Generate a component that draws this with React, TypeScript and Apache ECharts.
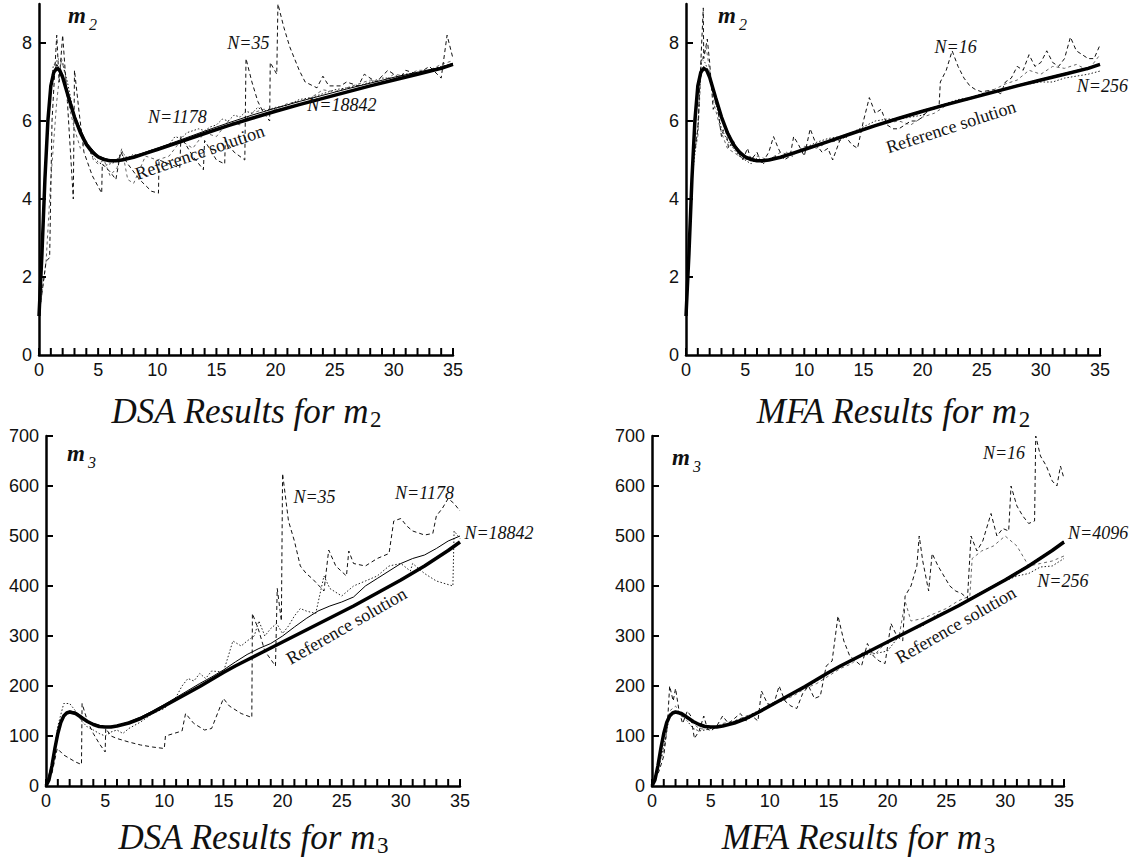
import React, { useEffect, useRef } from "react";
import * as echarts from "echarts";

// ---------- axis ticks ----------
const xTickValues = [0,1,2,3,4,5,6,7,8,9,10,11,12,13,14,15,16,17,18,19,20,21,22,23,24,25,26,27,28,29,30,31,32,33,34,35];
const m2LabelValues = [0,2,4,6,8];
const m3LabelValues = [0,100,200,300,400,500,600,700];

// ---------- reference solution ----------
const refM2X = [0,0.25,0.5,0.75,1,1.25,1.5,1.75,2,2.5,3,3.5,4,4.5,5,5.5,6,6.5,7,8,9,10,12,14,16,18,20,22,24,26,28,30,32,34,35];
const refM2Y = [1.0,2.6,4.5,6.0,6.9,7.25,7.35,7.3,7.12,6.6,6.1,5.7,5.4,5.2,5.08,5.01,4.98,4.98,5.0,5.07,5.17,5.27,5.47,5.68,5.88,6.07,6.25,6.42,6.58,6.74,6.9,7.05,7.2,7.35,7.45];

const refM3X = [0,0.25,0.5,0.75,1,1.25,1.5,1.75,2,2.5,3,3.5,4,4.5,5,5.5,6,7,8,9,10,11,12,13,14,15,16,17,18,19,20,22,24,26,28,30,32,34,35];
const refM3Y = [0,12,40,75,105,127,140,146,148,145,137,129,123,119,118,118,120,126,135,147,160,173,186,199,213,227,240,252,264,276,288,312,336,360,386,412,440,471,488];

// ---------- DSA m2 ----------
const dsaM2N18842X = [0,0.5,1,1.5,2,3,4,5,6,7,8,10,12,14,16,18,20,22,24,26,28,30,32,34,35];
const dsaM2N18842Y = [1.0,4.6,7.0,7.45,7.2,6.15,5.45,5.1,5.0,5.02,5.1,5.3,5.52,5.74,5.95,6.15,6.33,6.5,6.66,6.82,6.97,7.12,7.25,7.38,7.48];

const dsaM2N1178X = [0,0.4,0.8,1.2,1.6,2.0,2.4,2.8,3.2,3.6,4.0,4.5,5.0,5.5,6.0,6.5,7.0,7.5,8.0,8.5,9.0,9.5,10,10.5,11,11.5,12,12.5,13,13.5,14,14.5,15,15.5,16,16.5,17,17.5,18,18.5,19,19.5,20,21,22,23,24,25,26,27,28,29,30,31,32,33,34,35];
const dsaM2N1178Y = [1.0,3.8,6.2,7.4,7.6,7.5,7.0,6.4,5.9,5.6,5.4,5.1,4.95,4.85,4.9,4.95,5.2,5.05,5.15,5.1,5.2,5.25,5.25,5.35,5.4,5.6,5.55,5.7,5.75,5.8,5.75,5.85,5.9,6.05,6.0,6.15,6.1,6.25,6.2,6.35,6.25,6.3,6.35,6.4,6.55,6.6,6.7,6.8,6.85,6.9,7.0,7.1,7.1,7.2,7.25,7.3,7.4,7.45];

const dsaM2N35X = [0,0.6,0.9,1.1,1.5,1.7,2.0,2.4,2.9,2.95,3.0,3.4,3.8,4.5,5.3,5.35,6.0,6.5,6.9,7.5,8.5,9.5,10.1,10.15,11.0,11.9,12.0,13.0,13.9,14.0,15.0,15.7,15.75,16.5,17.4,17.5,18.0,18.5,19.0,19.5,19.55,20.1,20.2,20.7,21.2,22.0,22.5,23.5,24.0,24.5,25.5,26.0,27.0,27.5,28.5,29.5,30.5,31.0,32.0,33.0,34.0,34.5,35];
const dsaM2N35Y = [1.0,2.4,2.5,6.0,8.2,7.0,8.2,6.5,4.0,4.0,7.3,6.2,5.2,4.6,4.15,4.9,4.7,4.5,5.2,4.9,4.5,4.2,4.15,5.0,4.9,4.8,5.6,5.1,4.75,5.5,5.0,4.9,5.5,5.2,5.0,7.6,7.0,6.5,6.2,6.0,7.5,7.2,9.0,8.4,7.9,7.3,7.0,6.85,7.15,6.9,6.9,7.0,6.9,7.2,7.0,7.3,7.1,7.3,7.2,7.4,7.1,8.2,7.6];

const dsaM2MidX = [0,0.6,1.0,1.5,1.9,2.2,2.6,3.0,3.5,4.0,4.6,5.0,5.5,6.0,6.6,7.0,7.5,8.0,9.0,10.0,11.0,12.0,13.0,14.0,15.0,16.0,17.0,18.0,19.0,20.0,21.0,22.0,23.0,24.0,25.0,26.0,27.0,28.0,29.0,30.0,31.0,32.0,33.0,34.0,35.0];
const dsaM2MidY = [1.0,2.4,4.5,6.5,7.6,7.2,6.3,5.8,5.3,5.5,5.0,4.9,5.0,4.6,4.8,5.3,4.5,4.4,5.1,5.0,5.1,5.5,5.3,5.7,5.6,6.0,5.9,6.2,6.3,6.3,6.45,6.5,6.6,6.8,6.75,6.85,6.95,7.05,7.0,7.2,7.15,7.3,7.3,7.45,7.55];

// ---------- MFA m2 ----------
const mfaM2N4096X = [0,0.5,1,1.5,2,3,4,5,6,7,8,10,12,14,16,18,20,22,24,26,28,30,32,34,35];
const mfaM2N4096Y = [1.0,4.5,6.9,7.4,7.15,6.1,5.42,5.1,5.0,5.02,5.08,5.28,5.49,5.7,5.9,6.09,6.27,6.44,6.6,6.76,6.92,7.07,7.22,7.37,7.46];

const mfaM2N256X = [0,0.5,1,1.3,1.6,2,2.5,3,3.5,4,4.5,5,5.5,6,6.5,7,7.5,8,8.5,9,9.5,10,11,12,13,14,15,16,17,18,19,20,21,22,23,24,25,26,27,28,29,30,31,32,33,34,35];
const mfaM2N256Y = [1.0,4.5,5.8,7.6,7.5,7.2,6.5,5.8,5.5,5.3,5.1,5.0,4.9,5.05,4.9,5.0,5.1,5.05,5.2,5.1,5.25,5.3,5.45,5.55,5.6,5.7,5.85,6.0,6.05,6.05,6.1,6.15,6.35,6.45,6.55,6.6,6.7,6.75,6.8,6.9,6.95,7.0,7.0,7.1,7.15,7.2,7.28];

const mfaM2N16X = [0,0.6,1.0,1.46,1.5,1.8,2.0,2.3,2.6,3.0,3.3,3.6,4.0,4.4,4.8,5.2,5.5,6.0,6.4,7.0,7.4,7.8,8.3,8.8,9.1,9.5,10.0,10.5,11,11.5,12,12.4,13,13.5,14,14.5,15,15.5,16,16.5,17,17.5,18,18.5,19,19.5,20,20.5,21,21.4,21.5,22,22.5,23,23.5,24,24.5,25,26,26.6,27,27.5,28,28.5,29,29.5,30,30.5,31,31.5,32,32.5,33,33.5,34,34.5,35];
const mfaM2N16Y = [1.0,5.0,5.8,8.9,7.6,8.1,7.5,6.3,6.5,5.6,5.9,5.3,5.5,5.2,5.0,5.3,5.0,5.2,4.9,5.2,5.6,5.3,5.0,5.1,5.6,5.4,5.1,5.8,5.4,5.2,5.3,5.0,5.5,5.6,5.4,5.3,6.0,6.6,6.2,6.3,5.9,5.8,5.8,5.9,6.0,6.0,6.1,6.3,6.3,6.4,7.0,7.3,7.8,7.4,7.1,6.9,6.8,6.75,6.8,6.7,7.0,7.1,7.4,7.3,7.7,7.4,7.5,7.8,7.5,7.4,7.6,8.15,7.8,7.7,7.6,7.6,7.95];

const mfaM2MidX = [0,0.6,1,1.3,1.7,2,2.4,3,3.5,4,5,6,7,8,9,10,11,12,13,14,15,16,17,18,19,20,21,22,23,24,25,26,27,28,29,30,31,32,33,34,35];
const mfaM2MidY = [1.0,5.0,5.6,7.5,7.9,7.3,6.4,5.7,5.3,5.2,5.0,5.1,5.0,5.2,5.1,5.35,5.3,5.45,5.5,5.7,5.75,5.9,5.95,6.0,5.9,6.1,6.2,6.4,6.5,6.55,6.7,6.8,6.95,7.05,7.3,7.2,7.4,7.35,7.45,7.3,7.7];

// ---------- DSA m3 ----------
const dsaM3N18842X = [0,0.5,1,1.5,2,2.5,3,3.5,4,5,6,7,8,9,10,11,12,13,14,15,16,17,18,19,20,21,22,23,24,25,26,27,28,29,30,31,32,33,34,35];
const dsaM3N18842Y = [0,45,110,140,150,148,140,130,125,118,121,128,138,150,163,177,191,205,218,232,248,263,275,285,300,318,335,350,360,368,378,400,415,430,445,455,462,475,490,500];

const dsaM3N35X = [0,0.5,0.95,1.5,2,2.5,3,3.05,3.5,4,4.5,5,5.05,5.5,6,7,8,9,10,10.1,10.8,11.5,11.8,12.5,13.4,14,15,15.5,16.5,17.4,17.45,18,18.5,19.4,19.55,19.9,20,20.5,21,21.5,22,22.5,23.5,23.9,24.5,25.4,25.6,26,27,28,29,29.4,30,30.5,31,32,32.7,33,33.5,34,34.5,35];
const dsaM3N35Y = [0,25,75,62,55,48,43,165,130,105,85,68,115,100,95,88,82,78,75,100,105,110,145,125,112,115,175,160,145,137,345,310,270,240,395,330,625,530,490,440,425,415,390,472,440,420,470,445,440,455,465,530,535,520,510,502,505,540,555,575,565,550];

const dsaM3N1178X = [0,0.5,1,1.5,2,2.5,3,3.5,4,4.5,5,5.5,6,6.5,7,8,9,10,11,11.5,12,12.5,13,13.5,14,15,15.8,16.5,17,17.6,18,18.5,19,19.5,20,20.5,21,21.5,22,22.8,23.5,24,25,26,27,28,29,30,30.8,31,32,33,34.4,34.5,35];
const dsaM3N1178Y = [0,40,120,165,165,150,130,118,112,105,100,108,112,105,115,128,145,155,178,200,215,210,225,215,230,228,290,280,290,300,330,300,315,325,305,320,340,355,350,345,420,395,380,400,410,420,440,445,430,445,425,410,400,510,495];

// ---------- MFA m3 ----------
const mfaM3N4096X = [0,0.5,1,1.5,2,2.5,3,4,5,6,7,8,10,12,14,16,18,20,22,24,26,28,30,32,34,35];
const mfaM3N4096Y = [0,38,106,140,148,145,137,123,118,120,126,135,161,187,214,241,265,289,313,337,362,388,414,442,473,490];

const mfaM3N16X = [0,0.6,1,1.3,1.5,1.8,2,2.3,2.6,3,3.3,3.6,4,4.4,4.7,5,5.5,6,6.5,7,7.5,8,8.5,9,9.3,9.8,10.3,10.8,11.3,11.8,12.3,12.8,13.3,13.8,14.3,14.8,15.3,15.8,16.3,16.8,17.3,17.8,18.3,18.8,19.3,19.8,20.3,20.8,21.3,21.5,22,22.5,22.7,23,23.5,23.8,24.3,24.8,25.3,25.8,26.3,26.8,27.1,27.6,28.1,28.8,29.3,29.8,30.3,30.5,31,31.5,32,32.5,32.6,33,33.5,34,34.4,34.7,35];
const mfaM3N16Y = [0,30,60,120,200,170,195,150,125,150,140,95,110,140,115,110,120,140,125,135,145,130,140,130,190,165,160,200,170,160,155,185,200,175,180,240,250,340,290,260,250,240,285,260,250,245,325,300,290,380,400,440,500,450,390,465,440,420,400,390,385,375,500,470,490,545,500,515,510,600,560,540,525,530,700,660,640,610,600,640,615];

const mfaM3N256X = [0,0.5,1,1.5,2,2.5,3,3.5,4,4.5,5,5.5,6,7,8,9,10,11,12,13,14,15,16,17,18,19,20,21,22,23,24,25,26,27,28,29,30,31,32,33,34,35];
const mfaM3N256Y = [0,30,80,140,150,140,130,115,110,112,115,120,118,130,138,150,162,170,185,195,210,225,240,250,262,265,270,300,312,320,340,350,360,375,385,400,410,420,425,438,440,455];

const mfaM3MidX = [0,1,1.5,2,2.5,3,4,5,6,7,8,9,10,11,12,13,14,15,16,17,18,19,20,21,21.5,22,23,24,25,26,27,27.2,28,29,30,31,32,33,34,35];
const mfaM3MidY = [0,70,150,160,140,135,115,112,125,130,140,148,165,170,180,195,205,220,235,245,270,265,290,300,370,330,335,345,355,370,380,455,470,480,500,480,440,445,450,460];

// ---------- texts ----------
const panelTitles = ["DSA Results for ", "MFA Results for ", "DSA Results for ", "MFA Results for "];
const panelSubs = ["2", "2", "3", "3"];

const pairs = (xs: number[], ys: number[]) => xs.map((x, i) => [x, ys[i]]);

const SERIF = "'Liberation Serif', 'Times New Roman', serif";
const SANS = "'Liberation Sans', Arial, Helvetica, sans-serif";

export default function App() {
  const divRef = useRef<HTMLDivElement>(null);

  useEffect(() => {
    const chart = echarts.init(divRef.current!, null, { renderer: "svg" });

    const grids = [
      { left: 39, top: 4, width: 414, height: 351 },
      { left: 686, top: 4, width: 414, height: 351 },
      { left: 46, top: 436, width: 414, height: 350 },
      { left: 652, top: 436, width: 412, height: 350 },
    ];

    const xAxis = grids.map((_, i) => ({
      type: "value",
      gridIndex: i,
      min: 0,
      max: 35,
      interval: 5,
      axisLine: { show: true, onZero: false, lineStyle: { color: "#000", width: 2.5 } },
      axisTick: { show: false },
      axisLabel: { show: true, fontSize: 18, color: "#111", fontFamily: SANS, margin: 6 },
      splitLine: { show: false },
    }));

    const yAxis = grids.map((_, i) => {
      const top = i < 2;
      const labs = top ? m2LabelValues : m3LabelValues;
      return {
        type: "value",
        gridIndex: i,
        min: 0,
        max: top ? 9 : 700,
        interval: top ? 2 : 100,
        axisLine: { show: true, onZero: false, lineStyle: { color: "#000", width: 2.5 } },
        axisTick: { show: false },
        axisLabel: {
          show: true,
          fontSize: 18,
          color: "#111",
          fontFamily: SANS,
          margin: 7,
          formatter: (v: number) => (labs.indexOf(v) >= 0 ? String(v) : ""),
        },
        splitLine: { show: false },
      };
    });

    const refStyle = { color: "#000", width: 3.5 };
    const thinStyle = { color: "#000", width: 1 };
    const dottedStyle = { color: "#222", width: 1, type: [1.5, 2] };
    const dashedStyle = { color: "#111", width: 1, type: [4, 3] };
    const grayDashed = { color: "#666", width: 1, type: [3, 3] };

    const line = (g: number, name: string, data: number[][], lineStyle: any, z: number) => ({
      type: "line",
      name,
      xAxisIndex: g,
      yAxisIndex: g,
      data,
      symbol: "none",
      showSymbol: false,
      silent: true,
      lineStyle,
      z,
    });

    const series = [
      line(0, "mid", pairs(dsaM2MidX, dsaM2MidY), grayDashed, 2),
      line(0, "N=35", pairs(dsaM2N35X, dsaM2N35Y), dashedStyle, 3),
      line(0, "N=1178", pairs(dsaM2N1178X, dsaM2N1178Y), dottedStyle, 4),
      line(0, "N=18842", pairs(dsaM2N18842X, dsaM2N18842Y), thinStyle, 5),
      line(0, "ref", pairs(refM2X, refM2Y), refStyle, 10),
      line(1, "mid", pairs(mfaM2MidX, mfaM2MidY), grayDashed, 2),
      line(1, "N=16", pairs(mfaM2N16X, mfaM2N16Y), dashedStyle, 3),
      line(1, "N=256", pairs(mfaM2N256X, mfaM2N256Y), dottedStyle, 4),
      line(1, "N=4096", pairs(mfaM2N4096X, mfaM2N4096Y), thinStyle, 5),
      line(1, "ref", pairs(refM2X, refM2Y), refStyle, 10),
      line(2, "N=35", pairs(dsaM3N35X, dsaM3N35Y), dashedStyle, 3),
      line(2, "N=1178", pairs(dsaM3N1178X, dsaM3N1178Y), dottedStyle, 4),
      line(2, "N=18842", pairs(dsaM3N18842X, dsaM3N18842Y), thinStyle, 5),
      line(2, "ref", pairs(refM3X, refM3Y), refStyle, 10),
      line(3, "mid", pairs(mfaM3MidX, mfaM3MidY), grayDashed, 2),
      line(3, "N=16", pairs(mfaM3N16X, mfaM3N16Y), dashedStyle, 3),
      line(3, "N=256", pairs(mfaM3N256X, mfaM3N256Y), dottedStyle, 4),
      line(3, "N=4096", pairs(mfaM3N4096X, mfaM3N4096Y), thinStyle, 5),
      line(3, "ref", pairs(refM3X, refM3Y), refStyle, 10),
    ];

    chart.setOption({ animation: false, grid: grids, xAxis, yAxis, series });

    const px = (g: number, x: number, y: number) => chart.convertToPixel({ gridIndex: g } as any, [x, y]) as number[];

    const graphic: any[] = [];

    // axis ticks (inside), positioned through the axes' own scales
    const tickStyle = { stroke: "#000", lineWidth: 2 };
    grids.forEach((_, g) => {
      xTickValues.forEach((v) => {
        const p = px(g, v, 0);
        graphic.push({ type: "line", silent: true, z: 50, shape: { x1: p[0], y1: p[1], x2: p[0], y2: p[1] - 7 }, style: tickStyle });
      });
      (g < 2 ? m2LabelValues : m3LabelValues).forEach((v) => {
        if (v === 0) return;
        const p = px(g, 0, v);
        graphic.push({ type: "line", silent: true, z: 50, shape: { x1: p[0], y1: p[1], x2: p[0] + 7, y2: p[1] }, style: tickStyle });
      });
    });

    const nLabels: [number, string, number, number][] = [
      [0, "N=1178", 11.7, 6.1],
      [0, "N=35", 17.7, 8.0],
      [0, "N=18842", 25.6, 6.4],
      [1, "N=16", 22.8, 7.9],
      [1, "N=256", 35.2, 6.9],
      [2, "N=35", 22.7, 578],
      [2, "N=1178", 32.0, 586],
      [2, "N=18842", 38.3, 506],
      [3, "N=16", 29.9, 666],
      [3, "N=4096", 37.9, 506],
      [3, "N=256", 34.9, 410],
    ];
    const refLabels: [number, number, number, number][] = [
      [0, 13.6, 5.2, 19],
      [1, 22.4, 5.85, 18],
      [2, 25.4, 320, 30],
      [3, 25.8, 322, 30],
    ];

    nLabels.forEach(([g, t, x, y]) => {
      const p = px(g, x, y);
      graphic.push({
        type: "text", x: p[0], y: p[1], silent: true, z: 60,
        style: { text: t, fontFamily: SERIF, fontStyle: "italic", fontSize: 18, fill: "#111", align: "center", verticalAlign: "middle" },
      });
    });
    refLabels.forEach(([g, x, y, rot]) => {
      const p = px(g, x, y);
      graphic.push({
        type: "text", x: p[0], y: p[1], rotation: (rot * Math.PI) / 180, silent: true, z: 60,
        style: { text: "Reference solution", fontFamily: SERIF, fontSize: 18, fill: "#111", align: "center", verticalAlign: "middle" },
      });
    });

    // m labels
    const mPos = [
      [68, 15],
      [718, 15],
      [67, 453],
      [672, 457],
    ];
    mPos.forEach(([x, y], i) => {
      graphic.push({
        type: "text", x, y, silent: true, z: 60,
        style: { text: "m", fontFamily: SERIF, fontStyle: "italic", fontWeight: "bold", fontSize: 23, fill: "#111", align: "left", verticalAlign: "middle" },
      });
      graphic.push({
        type: "text", x: x + 21, y: y + 9, silent: true, z: 60,
        style: { text: panelSubs[i], fontFamily: SERIF, fontStyle: "italic", fontSize: 16, fill: "#111", align: "left", verticalAlign: "middle" },
      });
    });

    // titles
    const ctx = document.createElement("canvas").getContext("2d")!;
    const titleFont = 35;
    const subFont = 23;
    const titleCenters = [
      [246, 411],
      [893, 411],
      [253, 837],
      [858, 837],
    ];
    titleCenters.forEach(([cx, cy], i) => {
      const main = panelTitles[i] + "m";
      ctx.font = `italic ${titleFont}px 'Liberation Serif'`;
      const w1 = ctx.measureText(main).width;
      ctx.font = `${subFont}px 'Liberation Serif'`;
      const w2 = ctx.measureText(panelSubs[i]).width;
      const x0 = cx - (w1 + w2) / 2;
      graphic.push({
        type: "text", x: x0, y: cy, silent: true, z: 60,
        style: { text: main, fontFamily: SERIF, fontStyle: "italic", fontSize: titleFont, fill: "#111", align: "left", verticalAlign: "middle" },
      });
      graphic.push({
        type: "text", x: x0 + w1 + 1, y: cy + 8, silent: true, z: 60,
        style: { text: panelSubs[i], fontFamily: SERIF, fontSize: subFont, fill: "#111", align: "left", verticalAlign: "middle" },
      });
    });

    chart.setOption({ graphic });

    return () => chart.dispose();
  }, []);

  return (
    <div
      ref={divRef}
      style={{ position: "absolute", left: 0, top: 0, width: 1136, height: 861, background: "#fff" }}
    />
  );
}
